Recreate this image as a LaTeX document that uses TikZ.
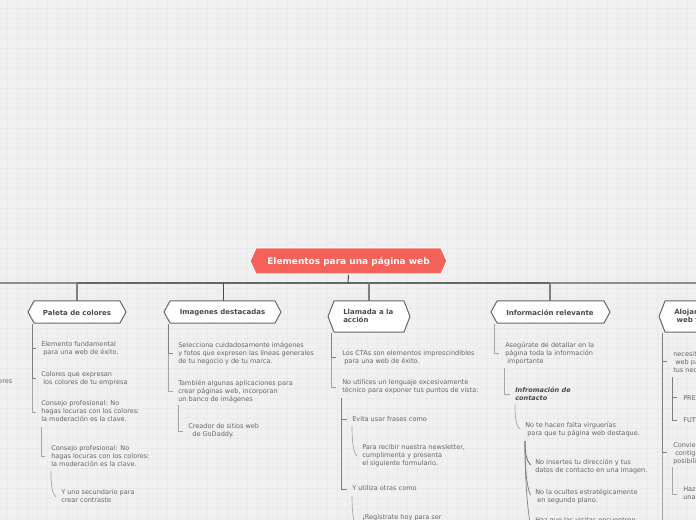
\documentclass[tikz,border=0pt]{standalone}
\usepackage{fontspec}
\setmainfont{DejaVu Sans}
\definecolor{bg}{HTML}{F0F0F0}
\definecolor{gridc}{HTML}{EAEAEA}
\definecolor{txt}{HTML}{666666}
\definecolor{dark}{HTML}{4A4A4A}
\definecolor{edge}{HTML}{666666}
\definecolor{light}{HTML}{A6A6A6}
\definecolor{mid}{HTML}{808080}
\definecolor{rootc}{HTML}{F4625A}
\tikzset{
  tx/.style={anchor=north west,inner sep=0pt,align=left,text=txt,yshift=-0.4pt,font=\fontsize{4.9pt}{6pt}\selectfont},
  hd/.style={font=\bfseries\fontsize{5.25pt}{6pt}\selectfont,text=dark,align=left,inner sep=0pt},
  hex/.style={draw=edge,fill=white,line width=0.75pt,line join=round},
  con/.style={draw=mid,line width=0.75pt},
  lcon/.style={draw=light,line width=0.75pt},
  thin con/.style={draw=light,line width=0.5pt}
}
\begin{document}
\begin{tikzpicture}[x=0.75pt,y=-0.75pt]
\useasboundingbox (0,0) rectangle (696,520);
\fill[bg] (0,0) rectangle (696,520);
\foreach \i in {0,...,69} \draw[gridc,line width=0.7pt] (\i*10+7,0) -- (\i*10+7,520);
\foreach \i in {0,...,51} \draw[gridc,line width=0.7pt] (0,\i*10+8) -- (696,\i*10+8);
\coordinate (trunkL) at (0,283);
\coordinate (trunkR) at (696,283);
\coordinate (t0) at (348,283);
\coordinate (t1) at (77,283);
\coordinate (t2) at (223,283);
\coordinate (t3) at (369,283);
\coordinate (t4) at (550,283);
\draw[gray!90,line width=1.1pt] (trunkL) -- (t1);
\draw[gray!90,line width=1.1pt] (t4) -- (trunkR);
\draw[edge,line width=1.1pt] (t1) -- (t4);
\draw[hex,draw=white,fill=rootc] (250,261) -- (256,248) -- (441,248) -- (447,261) -- (441,274) -- (256,274) -- cycle;
\node[font=\bfseries\fontsize{6.73pt}{8pt}\selectfont,text=white,inner sep=0pt] (root) at (348.5,261.6) {Elementos para una página web};
\draw[dark,line width=.75pt] (348.5,275) -- (t0);
\draw[mid,line width=.8pt] (t1) -- ++(0,18);
\draw[dark,line width=.75pt] (t2) -- ++(0,18);
\draw[mid,line width=.8pt] (t3) -- ++(0,18);
\draw[mid,line width=.8pt] (t4) -- ++(0,18);
\draw[hex] (28,312) -- (34,301) -- (120,301) -- (126,312) -- (120,323) -- (34,323) -- cycle;
\node[hd] (n1) at (77,312.7) {Paleta de colores};
\draw[hex] (164,312) -- (170,301) -- (275,301) -- (281,312) -- (275,323) -- (170,323) -- cycle;
\node[hd] (n2) at (222.5,312.7) {Imagenes destacadas};
\draw[hex] (328,316.5) -- (334,301) -- (404,301) -- (410,316.5) -- (404,332) -- (334,332) -- cycle;
\node[hd,anchor=north west] (n3) at (343,309) {Llamada a la\\acción};
\draw[hex] (491,312) -- (497,301) -- (604,301) -- (610,312) -- (604,323) -- (497,323) -- cycle;
\node[hd] (n4) at (550,312.7) {Información relevante};
\draw[hex] (659,316.5) -- (665,301) -- (720,301) -- (720,332) -- (665,332) -- cycle;
\node[hd,anchor=north west] (n5) at (674,309) {Alojamiento\\\ web fiable};
% paleta
\draw[lcon] (32,378) -- (32,412) -- (36,412);
\draw[con] (32,324) -- (32,378) -- (36,378);
\draw[con] (32,348) -- (36,348);
\node[tx] (p1) at (41,341) {Elemento fundamental\\\ para una web de éxito.};
\node[tx] (p2) at (41,371) {Colores que expresan\\\ los colores de tu empresa};
\node[tx] (p3) at (41,400) {Consejo profesional: No\\hagas locuras con los colores:\\la moderación es la clave.};
\draw[thin con] (41,427) -- (41,456) -- (45,456);
\node[tx] (p4) at (51,445) {Consejo profesional: No\\hagas locuras con los colores:\\la moderación es la clave.};
\draw[thin con] (51,471) .. controls (51,485) and (52,494) .. (56,497);
\node[tx] (p5) at (61,489) {Y uno secundario para\\crear contraste};
\node[tx,anchor=north east] (p0) at (12.5,379.5) {eres};
% imagenes
\draw[lcon] (168,353) -- (168,391) -- (173,391);
\draw[con] (168,324) -- (168,353) -- (173,353);
\node[tx] (i1) at (178,341) {Selecciona cuidadosamente imágenes\\y fotos que expresen las líneas generales\\de tu negocio y de tu marca.};
\node[tx] (i2) at (178,379) {También algunas aplicaciones para\\crear páginas web, incorporan\\un banco de imágenes};
\draw[lcon] (178,405) -- (178,431) -- (183,431);
\node[tx] (i3) at (188,423) {Creador de sitios web\\\ \ de GoDaddy.};
% llamada
\draw[lcon] (331,357) -- (331,387) -- (336,387);
\draw[con] (331,333) -- (331,357) -- (336,357);
\node[tx] (l1) at (342,350) {Los CTAs son elementos imprescindibles\\\ para una web de éxito.};
\node[tx] (l2) at (342,379) {No utilices un lenguaje excesivamente\\técnico para exponer tus puntos de vista:};
\draw[con] (341.5,398) -- (341.5,489) -- (347,489);
\draw[con] (341.5,419) -- (347,419);
\node[tx] (l3) at (352,416) {Evita usar frases como};
\draw[thin con] (352,426) .. controls (352,440) and (353,452) .. (357,456);
\node[tx] (l4) at (362,444) {Para recibir nuestra newsletter,\\cumplimenta y presenta\\el siguiente formulario.};
\node[tx] (l5) at (352,485) {Y utiliza otras como};
\draw[thin con] (352,496) .. controls (352,510) and (353,522) .. (357,530);
\node[tx] (l6) at (362,513) {¡Regístrate hoy para ser};
% info
\draw[thin con] (494,324) -- (494,353) -- (499,353);
\node[tx] (f1) at (505,341) {Asegúrate de detallar en la\\página toda la información\\\ importante};
\draw[lcon] (504,368) -- (504,394) -- (510,394);
\node[tx,font=\bfseries\itshape\fontsize{4.9pt}{6pt}\selectfont,text=dark] (f2) at (515,386) {Infromación de\\contacto};
\draw[thin con] (515,404) .. controls (515,418) and (516,426) .. (520,429);
\node[tx] (f3) at (525,421) {No te hacen falta virguerías\\\ para que tu página web destaque.};
\draw[edge,line width=.6pt] (525,441) .. controls (525,452) and (526,460) .. (530.5,465);
\draw[mid,line width=.6pt] (525,441) .. controls (525,465) and (526,485) .. (530.5,495);
\draw[mid,line width=.5pt] (525,441) .. controls (525,480) and (527,505) .. (531,530);
\node[tx] (f4) at (535,458) {No insertes tu dirección y tus\\datos de contacto en una imagen.};
\node[tx] (f5) at (535,488) {No la ocultes estratégicamente\\\ en segundo plano.};
\node[tx] (f6) at (535,517) {Haz que las visitas encuentren};
% aloj
\draw[lcon] (662,452) -- (662,520);
\draw[con] (662,333) -- (662,452) -- (667,452);
\draw[con] (662,361) -- (667,361);
\node[tx] (w1) at (673,351) {necesita\\\ web par\\tus nece};
\draw[con] (672,377) -- (672,420) -- (677,420);
\draw[con] (672,397) -- (677,397);
\node[tx] (w2) at (683,394.5) {PRESENTE};
\node[tx] (w3) at (683,416.5) {FUTURO};
\node[tx] (w4) at (673,442) {Conviene\\\ contigo\\posibilid};
\draw[thin con] (672,467) -- (672,494) -- (677,494);
\node[tx] (w5) at (683,486) {Haz una\\una cop};
\end{tikzpicture}
\end{document}
